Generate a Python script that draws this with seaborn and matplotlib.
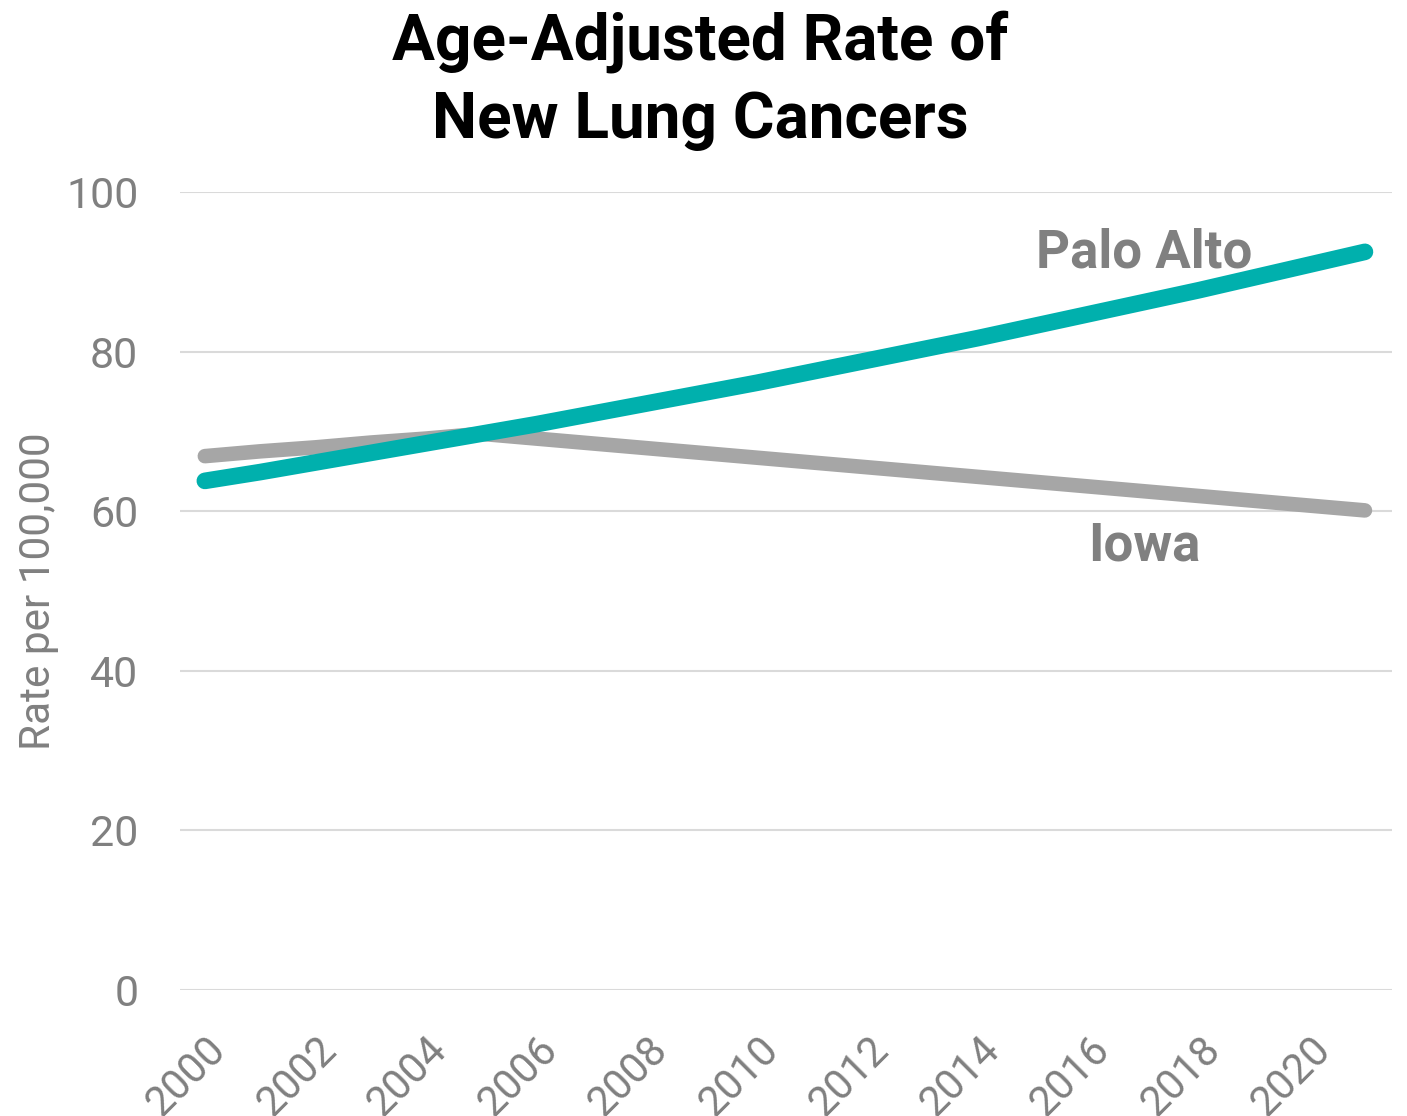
import matplotlib
matplotlib.use("Agg")
import matplotlib.pyplot as plt
import pandas as pd
import seaborn as sns

# values
YEARS = list(range(2000, 2022))
PALO_ALTO = [63.8, 64.9, 66.1, 67.3, 68.5, 69.7, 70.9, 72.2, 73.5, 74.8, 76.1,
             77.5, 78.9, 80.3, 81.7, 83.2, 84.7, 86.2, 87.7, 89.3, 90.9, 92.5]
IOWA = [66.9, 67.5, 68.0, 68.6, 69.1, 69.7, 69.1, 68.5, 67.9, 67.3, 66.7,
        66.1, 65.5, 64.9, 64.3, 63.7, 63.1, 62.5, 61.9, 61.3, 60.7, 60.1]
X_TICKS = list(range(2000, 2021, 2))
Y_TICKS = [0, 20, 40, 60, 80, 100]

TEAL = "#00B0AD"
GRAY_LINE = "#A6A6A6"
GRAY_TEXT = "#808080"


def main() -> None:
    sns.set_theme(style="white")
    plt.rcParams["font.family"] = ["Roboto", "DejaVu Sans"]

    df = pd.DataFrame({
        "year": YEARS * 2,
        "rate": IOWA + PALO_ALTO,
        "place": ["Iowa"] * len(YEARS) + ["Palo Alto"] * len(YEARS),
    })

    fig = plt.figure(figsize=(14.07, 11.16), dpi=100)
    ax = fig.add_axes([180 / 1407, 126 / 1116, 1212 / 1407, 798 / 1116])

    ax.set_axisbelow(True)
    ax.yaxis.grid(True, color="#DADADA", linewidth=1.5)
    ax.xaxis.grid(False)

    sns.lineplot(data=df, x="year", y="rate", hue="place",
                 hue_order=["Iowa", "Palo Alto"],
                 palette={"Iowa": GRAY_LINE, "Palo Alto": TEAL},
                 legend=False, ax=ax)
    widths = [10.5, 12]
    for line, lw in zip(ax.get_lines(), widths):
        line.set_linewidth(lw)
        line.set_solid_capstyle("round")
        line.set_clip_on(False)

    ax.set_xlim(1999.55, 2021.49)
    ax.set_ylim(0, 100)
    ax.set_xticks(X_TICKS)
    ax.set_yticks(Y_TICKS)
    ax.set_xticklabels([str(t) for t in X_TICKS], rotation=45, ha="right",
                       rotation_mode="anchor", fontsize=30, color=GRAY_TEXT)
    ax.set_yticklabels([str(t) for t in Y_TICKS], fontsize=31, color=GRAY_TEXT)
    ax.tick_params(axis="x", length=0, pad=28)
    ax.tick_params(axis="y", length=0, pad=30)
    ax.set_xlabel("")
    ax.set_ylabel("Rate per 100,000", fontsize=30.5, color=GRAY_TEXT, labelpad=5)
    for s in ax.spines.values():
        s.set_visible(False)

    ax.text(2017.0, 92.4, "Palo Alto", ha="center", va="center",
            fontsize=38, fontweight="bold", color=GRAY_TEXT)
    ax.text(2017.0, 55.6, "Iowa", ha="center", va="center",
            fontsize=38, fontweight="bold", color=GRAY_TEXT)

    fig.text(0.4975, 0.991, "Age-Adjusted Rate of\nNew Lung Cancers",
             ha="center", va="top", fontsize=46, fontweight="bold",
             color="black", linespacing=1.35)

    fig.savefig("out.png", dpi=100)


if __name__ == "__main__":
    main()
